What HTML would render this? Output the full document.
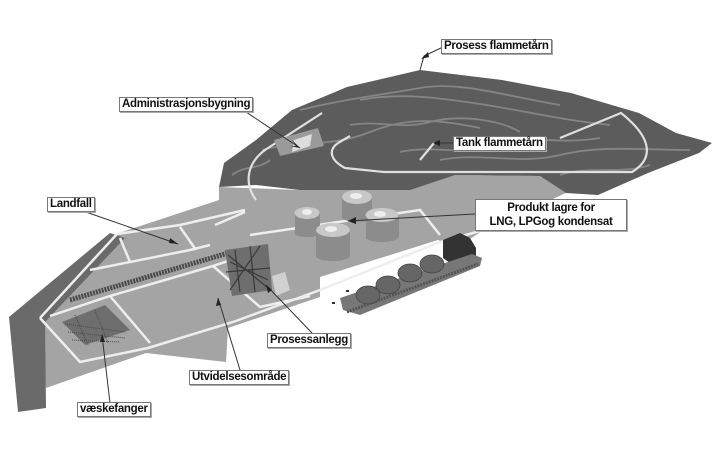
<!DOCTYPE html>
<html><head><meta charset="utf-8"><style>
body{margin:0;background:#fff;width:716px;height:455px;overflow:hidden;position:relative;font-family:"Liberation Sans",sans-serif}
.l{position:absolute;background:#fff;border:1px solid #777;box-shadow:1px 1px 0 #aaa;font-weight:bold;font-size:11.5px;color:#111;line-height:13px;padding:0 2px;white-space:nowrap;letter-spacing:-0.3px}
svg{position:absolute;left:0;top:0}
</style></head><body>
<svg width="716" height="455" viewBox="0 0 716 455">
<!-- platform -->
<polygon points="40,318 110,236 219,200 219,187 300,190 455,175 540,176 566,193 484,230 457,247 438,240 320,277 320,297 228,328 226,362 146,353 46,388" fill="#a4a4a4"/>
<!-- dark rim -->
<polygon points="9,317 110,233 125,238 45,322 46,408 18,412" fill="#6a6a6a"/>
<!-- hill -->
<polygon points="219,187 224,163 256,140 292,110 347,87 420,70 502,80 571,93 639,113 676,133 712,143 699,153 648,173 598,195 566,193 540,176 455,175 410,190 300,190 256,185" fill="#5c5c5c"/>
<g fill="none" stroke="#858585" stroke-width="1.8">
<path d="M300,110 C340,100 380,95 420,88 S500,95 560,105"/>
<path d="M262,150 C300,140 330,148 370,132 S440,120 480,128"/>
<path d="M360,100 C400,92 440,98 480,104 S560,120 610,125"/>
<path d="M440,160 C480,152 520,165 560,155 S640,150 690,150"/>
<path d="M350,125 C380,120 400,130 430,122 S500,120 520,132"/>
<path d="M480,140 C520,135 560,145 600,138"/>
<path d="M560,175 C590,165 620,175 650,165"/>
<path d="M232,175 C245,165 258,170 270,160"/>
<path d="M400,152 C430,145 460,155 500,148"/>
</g>
<!-- hill roads -->
<g fill="none" stroke="#e0e0e0" stroke-width="2.2">
<path d="M256,200 C245,185 245,165 265,150 L322,113"/>
<path d="M338,143 C328,150 330,160 345,168 L384,172 L632,172 C652,160 655,140 621,113 L560,138"/>
<path d="M338,143 L350,136"/>
<path d="M434,143 L420,160"/>
</g>
<!-- admin building -->
<polygon points="274,140 318,128 324,146 280,156" fill="#9a9a9a"/>
<polygon points="294,140 312,134 310,146 292,152" fill="#ddd"/>
<!-- roads platform -->
<g fill="none" stroke="#eee" stroke-width="2.5">
<path d="M40,318 L117,234 L180,225 L245,210"/>
<path d="M40,318 L80,362 L148,348 L233,322 L320,290 L440,242 L484,230"/>
<path d="M50,316 L110,296 L213,266 L260,250"/>
<path d="M110,296 L150,343"/>
<path d="M213,266 L260,307 L310,296"/>
<path d="M90,270 L190,250 L210,245"/>
<path d="M120,238 L130,262"/>
<path d="M180,227 L196,250"/>
<path d="M250,235 L420,210 L440,235"/>
<path d="M215,225 L245,212"/>
</g>
<!-- pipeline rack -->
<path d="M70,300 L228,253" stroke="#4a4a4a" stroke-width="5" stroke-dasharray="2,1"/>
<!-- process plant -->
<polygon points="225,250 268,244 272,290 232,296" fill="#6e6e6e"/>
<g fill="none" stroke="#3a3a3a" stroke-width="1.2"><path d="M228,255 L268,288 M235,250 L240,292 M250,246 L255,292 M226,272 L270,268 M230,262 L268,280 M260,246 L230,290"/></g>
<polygon points="272,276 285,272 290,290 276,296" fill="#d0d0d0"/>
<!-- væskefanger -->
<polygon points="62,322 105,305 130,330 85,345" fill="#6e6e6e"/>
<g stroke="#4a4a4a" stroke-width="1" stroke-dasharray="1,1"><path d="M65,324 L125,332 M68,332 L125,338 M72,340 L120,342 M75,315 L88,345 M95,310 L108,343"/></g>
<!-- tanks -->
<g>
<rect x="295" y="213" width="25" height="20" fill="#8c8c8c"/><ellipse cx="307" cy="233" rx="12.5" ry="4" fill="#8c8c8c"/><ellipse cx="307" cy="213" rx="12.5" ry="6" fill="#c8c8c8"/><ellipse cx="307" cy="212" rx="5" ry="3" fill="#eee"/>
<rect x="342" y="197" width="30" height="20" fill="#8c8c8c"/><ellipse cx="357" cy="217" rx="15" ry="5" fill="#8c8c8c"/><ellipse cx="357" cy="197" rx="15" ry="7" fill="#c8c8c8"/><ellipse cx="356" cy="196" rx="6" ry="3" fill="#eee"/>
<rect x="366" y="215" width="33" height="22" fill="#8c8c8c"/><ellipse cx="382" cy="237" rx="16.5" ry="5" fill="#8c8c8c"/><ellipse cx="382" cy="215" rx="16.5" ry="7" fill="#c8c8c8"/><ellipse cx="380" cy="214" rx="6" ry="3" fill="#eee"/>
<rect x="316" y="230" width="34" height="26" fill="#8c8c8c"/><ellipse cx="333" cy="256" rx="17" ry="5" fill="#8c8c8c"/><ellipse cx="333" cy="230" rx="17" ry="7" fill="#c8c8c8"/><ellipse cx="331" cy="229" rx="6" ry="3" fill="#eee"/>
</g>
<!-- black building -->
<polygon points="443,240 460,233 470,238 476,248 476,258 450,263 443,258" fill="#333"/>
<!-- ship -->
<polygon points="340,298 472,254 482,258 480,266 360,315 343,310" fill="#777"/>
<path d="M347,312 L478,264" stroke="#555" stroke-width="3" stroke-dasharray="2,1"/>
<g fill="#666" stroke="#444" stroke-width="0.8">
<ellipse cx="368" cy="295" rx="12" ry="9"/><ellipse cx="388" cy="285" rx="12" ry="9"/><ellipse cx="410" cy="273" rx="12" ry="9"/><ellipse cx="432" cy="264" rx="12" ry="9"/>
</g>
<rect x="332" y="302" width="3" height="2" fill="#333"/><rect x="346" y="290" width="3" height="2" fill="#333"/>
<!-- leader lines -->
<g stroke="#333" stroke-width="1" fill="none">
<path d="M443,47 L424,56 L420,70"/>
<path d="M240,108 L300,148"/>
<path d="M453,143 L434,143"/>
<path d="M80,210 L178,244"/>
<path d="M475,214 L348,221"/>
<path d="M312,333 L266,285"/>
<path d="M240,370 L218,298"/>
<path d="M110,403 L102,335"/>
</g>
<g fill="#222">
<polygon points="421,59 428,52 429,57"/>
<polygon points="300,148 292,140 296,146 290,146"/>
<polygon points="433,143 440,140 440,146"/>
<polygon points="178,244 170,238 169,243"/>
<polygon points="348,221 356,217 356,224"/>
<polygon points="266,285 268,293 272,290"/>
<polygon points="218,298 216,306 221,305"/>
<polygon points="102,334 100,342 105,342"/>
</g>
</svg>
<div class="l" style="left:441px;top:39px">Prosess flammetårn</div>
<div class="l" style="left:119px;top:97px">Administrasjonsbygning</div>
<div class="l" style="left:453px;top:136px">Tank flammetårn</div>
<div class="l" style="left:47px;top:197px">Landfall</div>
<div class="l" style="left:475px;top:199px;text-align:center;width:146px;padding:1px 2px;line-height:14px">Produkt lagre for<br>LNG, LPGog kondensat</div>
<div class="l" style="left:267px;top:333px">Prosessanlegg</div>
<div class="l" style="left:189px;top:370px">Utvidelsesområde</div>
<div class="l" style="left:77px;top:402px">væskefanger</div>
</body></html>
